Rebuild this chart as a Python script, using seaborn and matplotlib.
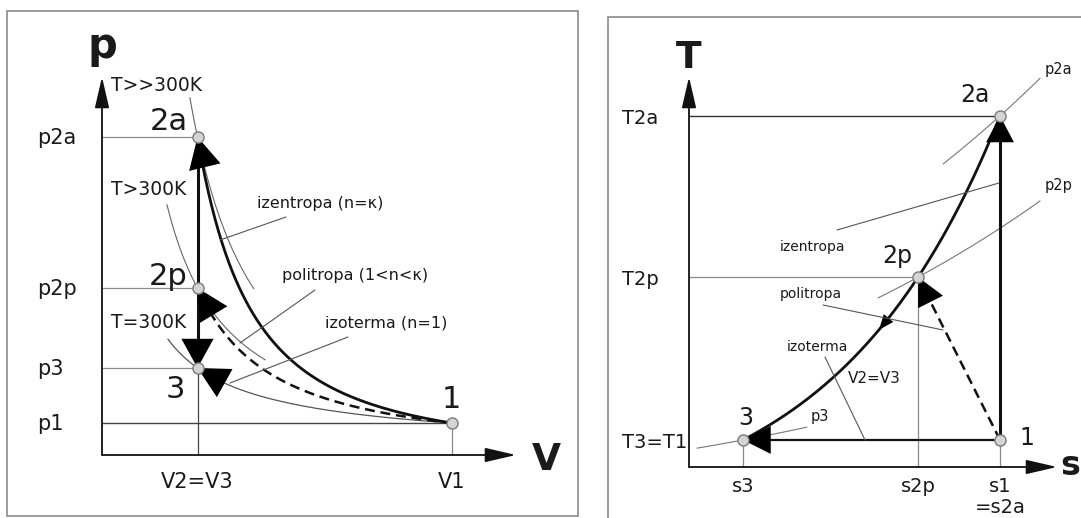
import numpy as np
import matplotlib
matplotlib.use("Agg")
import matplotlib.pyplot as plt
import matplotlib.transforms as mtransforms
from matplotlib.lines import Line2D
from matplotlib.patches import Rectangle
import seaborn as sns

sns.set_theme(style="white")
plt.rcParams["font.family"] = ["DejaVu Sans"]

# ---------------- data ----------------
states = ["1", "2a", "2p", "3"]
V_vals = [3.66, 1.0, 1.0, 1.0]          # p-V diagram
p_vals = [1.0, 9.94, 5.22, 2.72]
s_vals = [1.366, 1.366, 1.006, 0.237]    # T-s diagram
T_vals = [300.0, 1444.0, 875.0, 300.0]

p_ticks = ["p1", "p2a", "p2p", "p3"]
V_ticks = ["V1", "V2=V3"]
T_ticks = ["T3=T1", "T2a", "T2p"]
s_ticks = ["s1", "s2p", "s3"]
iso_T_labels = ["T>>300K", "T>300K", "T=300K"]
pv_curve_labels = ["izentropa (n=κ)", "politropa (1<n<κ)", "izoterma (n=1)"]
ts_curve_labels = ["izentropa", "politropa", "izoterma", "V2=V3"]
isobar_labels = ["p2a", "p2p", "p3"]

# shape of the thin isotherm marks (pV^n) and isobar marks (T ~ exp(s/c))
iso_mark_n = [1.4, 1.05]
isobar_c = 2.0

# ---------------- figure ----------------
W, H = 1081, 518
fig = plt.figure(figsize=(W / 100, H / 100), dpi=100)
fig.patch.set_facecolor("white")
PX = mtransforms.Affine2D().scale(1, -1).translate(0, H)   # top-left pixel coords

TXT = "#1a1a1a"
GRAY = "#8a8a8a"
LEAD = "#555555"

fig.add_artist(Rectangle((7 / W, (H - 516) / H), 571 / W, 505 / H, transform=fig.transFigure,
                         fill=False, ec=GRAY, lw=1.2))
fig.add_artist(Rectangle((608 / W, -0.1), 1.0, (H - 17) / H + 0.1, transform=fig.transFigure,
                         fill=False, ec=GRAY, lw=1.2))

axL = fig.add_axes([102 / W, (H - 455) / H, (516 - 102) / W, (455 - 77) / H])
axR = fig.add_axes([689 / W, (H - 467) / H, (1057 - 689) / W, (467 - 77) / H])
for ax in (axL, axR):
    ax.set_axis_off()
    ax.patch.set_alpha(0)


def axis_arrows(ax):
    st = "-|>,head_length=0.95,head_width=0.22"
    for end in [(1, 0), (0, 1)]:
        ax.annotate("", xy=end, xytext=(0, 0), xycoords="axes fraction",
                    arrowprops=dict(arrowstyle=st, mutation_scale=20, lw=1.3,
                                    color="#111111", shrinkA=0, shrinkB=0))


def head(ax, tip, tail, hl, hw, ms=20):
    ax.annotate("", xy=tip, xytext=tail,
                arrowprops=dict(arrowstyle=f"-|>,head_length={hl},head_width={hw}",
                                mutation_scale=ms, lw=0, fc="black", ec="none",
                                shrinkA=0, shrinkB=0), zorder=5)


def line(ax, xs, ys, color=GRAY, lw=0.9, **kw):
    ax.plot(xs, ys, color=color, lw=lw, clip_on=False, solid_capstyle="butt", **kw)


def ftext(x, y, s, size, ha="left", weight="normal"):
    fig.text(x, y, s, transform=PX, fontsize=size, ha=ha, va="baseline",
             color=TXT, fontweight=weight)


def leader(x0, y0, x1, y1):
    fig.add_artist(Line2D([x0, x1], [y0, y1], transform=PX, color=LEAD, lw=0.8))


# =============== p-V diagram ===============
axL.set_xlim(0, 4.335)
axL.set_ylim(0, 11.8125)
V1, V2 = V_vals[0], V_vals[1]
p1, p2a, p2p, p3 = p_vals
n_isen = np.log(p2a / p1) / np.log(V1 / V2)
n_poly = np.log(p2p / p1) / np.log(V1 / V2)
n_isot = np.log(p3 / p1) / np.log(V1 / V2)

axis_arrows(axL)
# guide lines
for pv in (p2a, p2p, p3):
    line(axL, [0, V2], [pv, pv])
line(axL, [0, V1], [p1, p1], color="#444444", lw=1.0)
line(axL, [V1, V1], [0, p1])
line(axL, [V2, V2], [0, p3], color="#444444", lw=0.9)

# thin isotherm marks through 2a and 2p
Vm = np.linspace(0.92, 1.59, 60)
sns.lineplot(x=Vm, y=p2a * (V2 / Vm) ** iso_mark_n[0], ax=axL, color="#666666", lw=0.8,
             sort=False, estimator=None)
Vm = np.linspace(0.68, 1.71, 60)
sns.lineplot(x=Vm, y=p2p * (V2 / Vm) ** iso_mark_n[1], ax=axL, color="#666666", lw=0.8,
             sort=False, estimator=None)
# isotherm 3-1
Vc = np.linspace(0.69, V1, 300)
sns.lineplot(x=Vc, y=p3 * (V2 / Vc) ** n_isot, ax=axL, color="#555555", lw=0.9,
             sort=False, estimator=None)
# polytrope (dashed)
Vc = np.linspace(1.05, V1, 300)
axL.plot(Vc, p2p * (V2 / Vc) ** n_poly, color="#111111", lw=1.8, dashes=(4, 2.3))
# isentrope
Vc = np.linspace(V2, V1, 300)
sns.lineplot(x=Vc, y=p2a * (V2 / Vc) ** n_isen, ax=axL, color="#111111", lw=2.0,
             sort=False, estimator=None)
# isochore
axL.plot([V2, V2], [p3, p2a], color="#111111", lw=2.2, solid_capstyle="butt")

# arrowheads
Vt = 1.3
head(axL, (V2, p2a), (Vt, p2a * (V2 / Vt) ** n_isen), 1.12, 0.58)
head(axL, (V2, p2p), (Vt, p2p * (V2 / Vt) ** n_poly), 1.12, 0.58)
head(axL, (V2, p3), (V2, p2p), 1.05, 0.58)
head(axL, (V2, p3), (Vt, p3 * (V2 / Vt) ** n_isot), 1.12, 0.58)

sns.scatterplot(x=V_vals, y=p_vals, ax=axL, s=64, color="#d4d4d4", edgecolor="#7a7a7a",
                linewidth=1.0, zorder=7, clip_on=False)

# tick labels
for lab, pv in zip(p_ticks, [p1, p2a, p2p, p3]):
    axL.annotate(lab, xy=(0, pv), xycoords=("axes fraction", "data"), xytext=(-64.5, -7),
                 textcoords="offset pixels", ha="left", va="baseline", fontsize=15, color=TXT)
for lab, vv in zip(V_ticks, [V1, V2]):
    axL.annotate(lab, xy=(vv, 0), xycoords=("data", "axes fraction"), xytext=(0, -33),
                 textcoords="offset pixels", ha="center", va="baseline", fontsize=15, color=TXT)
# state labels
pv_off = {"1": (0, 15), "2a": (-29, 7), "2p": (-29, 3), "3": (-22.5, -30)}
for st, vv, pv in zip(states, V_vals, p_vals):
    axL.annotate(st, xy=(vv, pv), xytext=pv_off[st], textcoords="offset pixels",
                 ha="center", va="baseline", fontsize=22, color=TXT)

ftext(102.7, 58, "p", 30, ha="center", weight="bold")
ftext(546.5, 470, "V", 27, ha="center", weight="bold")
for lab, yb in zip(iso_T_labels, [91, 195, 328]):
    ftext(111, yb, lab, 13.5)
for lab, (x, yb) in zip(pv_curve_labels, [(257, 208), (282, 280), (325, 327)]):
    ftext(x, yb, lab, 11.5)
leader(286, 217, 220, 240)
leader(315, 290, 240, 343)
leader(348, 337, 230, 383)

# =============== T-s diagram ===============
T_lo = 204.7
axR.set_xlim(0, 1.6162)
axR.set_ylim(T_lo, 1581.2)
s1, s2a, s2p, s3 = s_vals
T1, T2a, T2p, T3 = T_vals
cv = (s1 - s3) / np.log(T2a / T3)

axis_arrows(axR)
line(axR, [0, s1], [T2a, T2a], color="#333333", lw=1.0)
line(axR, [0, s2p], [T2p, T2p])
line(axR, [s3, s3], [T_lo, T3])
line(axR, [s2p, s2p], [T_lo, T2p])
line(axR, [s1, s1], [T_lo, T1])

# isobar marks
for (sk, Tk), (a, b) in zip([(s2a, T2a), (s2p, T2p), (s3, T3)],
                            [(-0.25, 0.176), (-0.176, 0.536), (-0.202, 0.281)]):
    sm = np.linspace(sk + a, sk + b, 60)
    sns.lineplot(x=sm, y=Tk * np.exp((sm - sk) / isobar_c), ax=axR, color="#777777",
                 lw=0.8, sort=False, estimator=None)

# isochore 3 -> 2p -> 2a
sc = np.linspace(s3, s1, 300)
sns.lineplot(x=sc, y=T3 * np.exp((sc - s3) / cv), ax=axR, color="#111111", lw=2.0,
             sort=False, estimator=None)
# isentrope, isotherm, polytrope
axR.plot([s1, s1], [T1, T2a], color="#111111", lw=2.2, solid_capstyle="butt")
axR.plot([s3, s1], [T3, T1], color="#111111", lw=1.6, solid_capstyle="butt")
axR.plot([s1, s2p], [T1, T2p], color="#111111", lw=1.8, dashes=(4, 2.3))

head(axR, (s1, T2a), (s1, T1), 0.95, 0.5)
head(axR, (s3, T3), (s1, T1), 1.0, 0.5)
head(axR, (s2p, T2p), (s1, T1), 1.0, 0.5)
st_, sh_ = 0.834, 0.87
head(axR, (st_, T3 * np.exp((st_ - s3) / cv)), (sh_, T3 * np.exp((sh_ - s3) / cv)), 0.55, 0.22)

sns.scatterplot(x=s_vals, y=T_vals, ax=axR, s=64, color="#d4d4d4", edgecolor="#7a7a7a",
                linewidth=1.0, zorder=7, clip_on=False)

for lab, tv in zip(T_ticks, [T1, T2a, T2p]):
    axR.annotate(lab, xy=(0, tv), xycoords=("axes fraction", "data"), xytext=(-67, -8),
                 textcoords="offset pixels", ha="left", va="baseline", fontsize=14, color=TXT)
for lab, sv in zip(s_ticks, [s1, s2p, s3]):
    axR.annotate(lab, xy=(sv, 0), xycoords=("data", "axes fraction"), xytext=(0, -25),
                 textcoords="offset pixels", ha="center", va="baseline", fontsize=14, color=TXT)
axR.annotate("=s2a", xy=(s2a, 0), xycoords=("data", "axes fraction"), xytext=(0, -46),
             textcoords="offset pixels", ha="center", va="baseline", fontsize=14, color=TXT)

ts_off = {"1": (27, -5), "2a": (-25, 14), "2p": (-20.5, 14), "3": (2.5, 15)}
for st, sv, tv in zip(states, s_vals, T_vals):
    axR.annotate(st, xy=(sv, tv), xytext=ts_off[st], textcoords="offset pixels",
                 ha="center", va="baseline", fontsize=17, color=TXT)

ftext(689, 68, "T", 27, ha="center", weight="bold")
ftext(1060, 475, "s", 24, weight="bold")
for lab, (x, yb, fs) in zip(ts_curve_labels, [(780, 251, 10), (780, 298, 10), (787, 351, 10),
                                              (848, 383, 11)]):
    ftext(x, yb, lab, fs)
for lab, (x, yb) in zip(isobar_labels, [(1045, 74), (1045, 190), (811, 421)]):
    ftext(x, yb, lab, 10.5)
leader(837, 230, 999, 183)
leader(823, 305, 943, 330)
leader(825, 357, 865, 440)

fig.savefig("out.png", dpi=100)
